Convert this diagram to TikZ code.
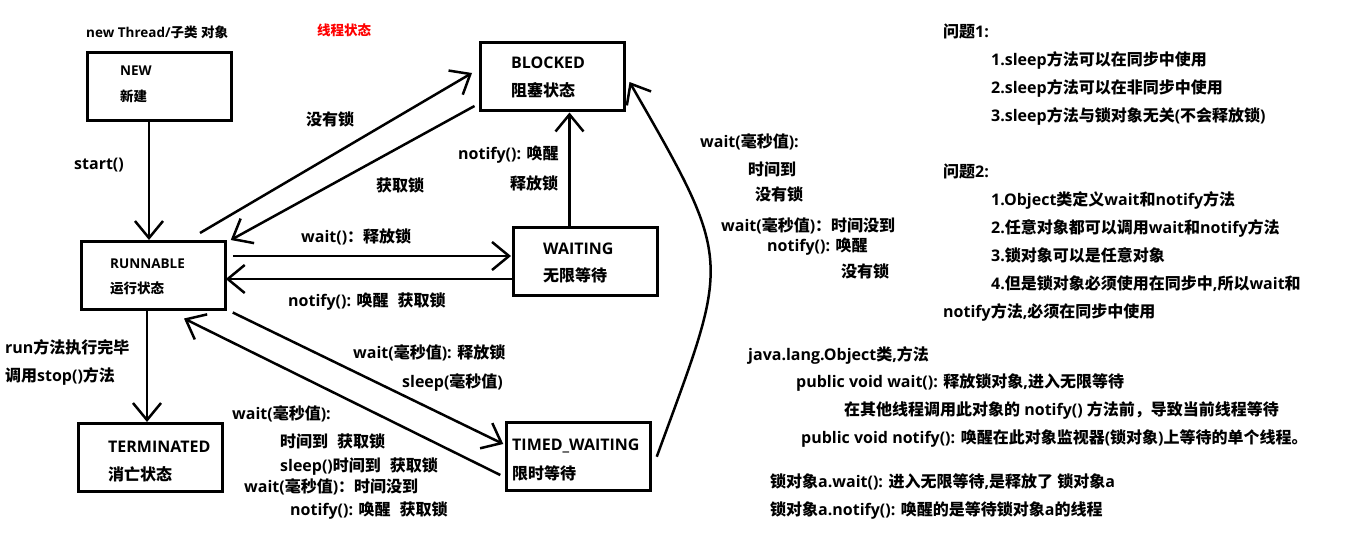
\documentclass[tikz,border=0pt]{standalone}
\usepackage{fontspec}
\setmainfont{Open Sans}
\newfontfamily\latinfont{Open Sans}
\newfontfamily\cjkfont{Noto Sans CJK SC}
\usetikzlibrary{arrows.meta}
% automatic font switching between Latin and CJK characters
\XeTeXinterchartokenstate=1
\chardef\mycjkclass=7
\newcount\mycnt
\mycnt=0
\loop \XeTeXcharclass\mycnt=0 \ifnum\mycnt<"2E7F \advance\mycnt by 1 \repeat
\mycnt="2E80
\loop \XeTeXcharclass\mycnt=\mycjkclass \ifnum\mycnt<"9FFF \advance\mycnt by 1 \repeat
\mycnt="FF00
\loop \XeTeXcharclass\mycnt=\mycjkclass \ifnum\mycnt<"FFEF \advance\mycnt by 1 \repeat
\XeTeXinterchartoks 0 \mycjkclass={\cjkfont}
\XeTeXinterchartoks 4095 \mycjkclass={\cjkfont}
\XeTeXinterchartoks \mycjkclass 0={\latinfont}
\XeTeXinterchartoks \mycjkclass 4095={\latinfont}
\tikzset{
  box/.style={draw, line width=3pt, minimum width=144pt, minimum height=68pt, inner sep=0pt},
  arr/.style={line width=2.5pt, -{Straight Barb[length=17pt,width=28pt]}},
  big/.style={anchor=base west, inner sep=0pt, font=\bfseries\fontsize{16}{19}\selectfont},
  small/.style={anchor=base west, inner sep=0pt, font=\bfseries\fontsize{13.5}{16}\selectfont},
}
\begin{document}
\begin{tikzpicture}[x=1pt,y=-1pt]
\fill[white] (0,0) rectangle (1360,537);
\useasboundingbox (0,0) rectangle (1360,537);

% state boxes
\node[box] (new) at (159.25,86.5) {};
\node[box] (blocked) at (552.5,77) {};
\node[box] (runnable) at (153.25,275.5) {};
\node[box] (terminated) at (150.5,457.5) {};
\node[box] (waiting) at (585.5,262) {};
\node[box] (timed) at (578.25,456.75) {};

% box texts
\node[small] (newA) at (120,76) {NEW};
\node[small] (newB) at (120,102) {新建};
\node[small] (runA) at (110,269) {RUNNABLE};
\node[small] (runB) at (110,294) {运行状态};
\node[big] (blkA) at (511,69) {BLOCKED};
\node[big] (blkB) at (511,97) {阻塞状态};
\node[big] (terA) at (108,452) {TERMINATED};
\node[big] (terB) at (108,480) {消亡状态};
\node[big] (waiA) at (543,255) {WAITING};
\node[big] (waiB) at (543,282) {无限等待};
\node[big] (timA) at (512,450) {TIMED\_WAITING};
\node[big] (timB) at (512,479) {限时等待};

% titles
\node[small] (title1) at (86,38) {new Thread/子类 对象};
\node[small, text=red] (title2) at (317,36) {线程状态};

% connectors
\draw[arr] ([xshift=-10.25pt]new.south) -- ([xshift=-4.25pt]runnable.north);
\draw[arr] ([xshift=-6.25pt]runnable.south) -- ([xshift=-3.5pt]terminated.north);
\draw[arr] ([xshift=46.75pt,yshift=7pt]runnable.north) -- ([xshift=-7pt,yshift=4pt]blocked.west);
\draw[arr] ([xshift=-4.5pt,yshift=-29pt]blocked.west) -- ([xshift=4pt]runnable.north east);
\draw[arr] ([xshift=6pt,yshift=19.5pt]runnable.east) -- ([xshift=-1pt,yshift=6pt]waiting.west);
\draw[arr] ([yshift=-17pt]waiting.west) -- ([xshift=-1pt,yshift=-3.5pt]runnable.east);
\draw[arr] ([xshift=-16pt]waiting.north) -- ([xshift=17pt]blocked.south);
\draw[arr] ([xshift=6pt,yshift=-1.5pt]runnable.south east) -- ([xshift=-1.5pt,yshift=12.75pt]timed.west);
\draw[arr] ([xshift=-4.5pt,yshift=-18.25pt]timed.west) -- ([xshift=30.75pt,yshift=-7.5pt]runnable.south);
\draw[arr] ([xshift=5pt]timed.east) .. controls +(73,-200) and +(106,184) .. ([xshift=3.5pt,yshift=-5pt]blocked.east);

% connector labels
\node[big] (l1) at (74,170) {start()};
\node[big] (l2) at (5,353) {run方法执行完毕};
\node[big] (l3) at (5,381) {调用stop()方法};
\node[big] (l4) at (306,126) {没有锁};
\node[big] (l5) at (376,192) {获取锁};
\node[big] (l6) at (458,160) {notify(): 唤醒};
\node[big] (l7) at (510,190) {释放锁};
\node[big] (l8) at (301,243) {wait()：释放锁};
\node[big] (l9) at (288,307) {notify(): 唤醒\hspace{9pt}获取锁};
\node[big] (l10) at (353,359) {wait(毫秒值): 释放锁};
\node[big] (l11) at (402,387) {sleep(毫秒值)};
\node[big] (l12) at (232,419) {wait(毫秒值):};
\node[big] (l13) at (280,447) {时间到\hspace{9pt}获取锁};
\node[big] (l14) at (280,471) {sleep()时间到\hspace{9pt}获取锁};
\node[big] (l15) at (244,492) {wait(毫秒值)：时间没到};
\node[big] (l16) at (290,515) {notify(): 唤醒\hspace{9pt}获取锁};
\node[big] (l17) at (700,148) {wait(毫秒值):};
\node[big] (l18) at (748,176) {时间到};
\node[big] (l19) at (755,201) {没有锁};
\node[big] (l20) at (721,232) {wait(毫秒值)：时间没到};
\node[big] (l21) at (767,252) {notify(): 唤醒};
\node[big] (l22) at (841,278) {没有锁};

% notes on the right
\node[big] (q1) at (943,38) {问题1:};
\node[big] (q1a) at (991,66) {1.sleep方法可以在同步中使用};
\node[big] (q1b) at (991,94) {2.sleep方法可以在非同步中使用};
\node[big] (q1c) at (991,122) {3.sleep方法与锁对象无关(不会释放锁)};
\node[big] (q2) at (943,178) {问题2:};
\node[big] (q2a) at (991,206) {1.Object类定义wait和notify方法};
\node[big] (q2b) at (991,234) {2.任意对象都可以调用wait和notify方法};
\node[big] (q2c) at (991,262) {3.锁对象可以是任意对象};
\node[big] (q2d) at (991,290) {4.但是锁对象必须使用在同步中,所以wait和};
\node[big] (q2e) at (943,318) {notify方法,必须在同步中使用};

\node[big] (j1) at (748,360) {java.lang.Object类,方法};
\node[big] (j2) at (796,387) {public void wait(): 释放锁对象,进入无限等待};
\node[big] (j3) at (844,415) {在其他线程调用此对象的 notify() 方法前，导致当前线程等待};
\node[big] (j4) at (801,443) {public void notify(): 唤醒在此对象监视器(锁对象)上等待的单个线程。};
\node[big] (j5) at (770,487) {锁对象a.wait(): 进入无限等待,是释放了 锁对象a};
\node[big] (j6) at (770,515) {锁对象a.notify(): 唤醒的是等待锁对象a的线程};
\end{tikzpicture}
\end{document}
